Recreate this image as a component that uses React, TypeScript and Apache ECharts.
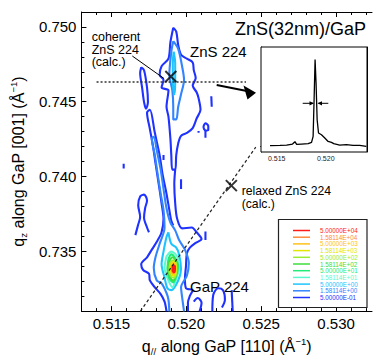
import React, { useEffect, useRef } from 'react';
import * as echarts from 'echarts';

const FONT = '"Liberation Sans", Arial, Helvetica, sans-serif';

// ---- axes ----
const xRange = [0.513, 0.5324];
const yRange = [0.731, 0.751];
const xMajorTicks = [0.515, 0.52, 0.525, 0.53];
const xMinorTicks = [0.514, 0.516, 0.517, 0.518, 0.519, 0.521, 0.522, 0.523, 0.524, 0.526, 0.527, 0.528, 0.529, 0.531, 0.532];
const yMajorTicks = [0.735, 0.74, 0.745, 0.75];
const yMinorTicks = [0.732, 0.733, 0.734, 0.736, 0.737, 0.738, 0.739, 0.741, 0.742, 0.743, 0.744, 0.746, 0.747, 0.748, 0.749];

const insetXRange = [0.5134, 0.5242];
const insetXLabels = [0.515, 0.52];
const insetXTicks = [0.514, 0.515, 0.516, 0.517, 0.518, 0.519, 0.52, 0.521, 0.522, 0.523, 0.524];
const insetYRange = [-0.45, 8];
const insetYTicks = [0, 1, 2, 3, 4, 5, 6, 7];

// ---- contour levels (legend) ----
const levelLabels = ['5.00000E+04', '1.58114E+04', '5.00000E+03', '1.58114E+03', '5.00000E+02', '1.58114E+02', '5.00000E+01', '1.58114E+01', '5.00000E+00', '1.58114E+00', '5.00000E-01'];
const levelColors = ['#ff1a1a', '#ff8a3c', '#ffc21a', '#e2e600', '#9cec30', '#3ede3e', '#22ec78', '#5ef8d0', '#1ec4ff', '#3284ff', '#1f32ff'];

// ---- contour polylines (q//, qz) ----
const znsOuter = [[0.51913, 0.74995], [0.51933, 0.74969], [0.51946, 0.74879], [0.51965, 0.74814], [0.52004, 0.74788], [0.52043, 0.74763], [0.5205, 0.74711], [0.52063, 0.74659], [0.52043, 0.74608], [0.52069, 0.74563], [0.52082, 0.74524], [0.52095, 0.74446], [0.52069, 0.74388], [0.52043, 0.74324], [0.52004, 0.74292], [0.51965, 0.74272], [0.51946, 0.74221], [0.51933, 0.74143], [0.51926, 0.74046], [0.51907, 0.74046], [0.519, 0.74143], [0.51894, 0.74253], [0.51881, 0.74401], [0.51868, 0.74466], [0.51881, 0.74575], [0.51835, 0.74595], [0.51848, 0.74646], [0.51822, 0.74679], [0.51835, 0.74737], [0.51881, 0.74788], [0.51894, 0.74898], [0.51913, 0.74995]];
const znsTail = [[0.51926, 0.74046], [0.5192, 0.7395], [0.51926, 0.73821], [0.51939, 0.73717], [0.51972, 0.73653], [0.52037, 0.73659], [0.52069, 0.73627], [0.52102, 0.73582], [0.52063, 0.73556], [0.52024, 0.73524], [0.52004, 0.73485], [0.51998, 0.73401], [0.51991, 0.73317], [0.51998, 0.73253], [0.52043, 0.7324], [0.52024, 0.73201], [0.52011, 0.73156], [0.52011, 0.73098]];
const streakTop = [[0.51699, 0.7473], [0.51718, 0.74711], [0.51738, 0.74595], [0.51744, 0.74498], [0.51731, 0.74453], [0.51718, 0.74498], [0.51705, 0.74595], [0.51692, 0.74692], [0.51699, 0.7473]];
const streakOuter = [[0.51913, 0.73672], [0.519, 0.73704], [0.51887, 0.73775], [0.51868, 0.73885], [0.51842, 0.74014], [0.51822, 0.74143], [0.5179, 0.74292], [0.51757, 0.74446], [0.51738, 0.74427], [0.51757, 0.74317], [0.51777, 0.74208], [0.51796, 0.74079], [0.51816, 0.7395], [0.51835, 0.73821], [0.51848, 0.73717], [0.51835, 0.73627], [0.51803, 0.73563], [0.5177, 0.73511], [0.51738, 0.7346], [0.51699, 0.73414], [0.51712, 0.73375], [0.51751, 0.7335], [0.51757, 0.73305], [0.5179, 0.73259], [0.51829, 0.73214], [0.51855, 0.73163], [0.51868, 0.73098]];
const islandLeft = [[0.5166, 0.73608], [0.51679, 0.73679], [0.51692, 0.7373], [0.51679, 0.73808], [0.51692, 0.73866], [0.51718, 0.73879], [0.51738, 0.7384], [0.51725, 0.73788], [0.51718, 0.73724], [0.51738, 0.73659], [0.51751, 0.73627]];
const islandRho = [[0.52128, 0.74304], [0.52115, 0.7433], [0.52128, 0.74356], [0.52147, 0.74337], [0.52147, 0.74311], [0.52128, 0.74304], [0.52128, 0.74259]];
const islandDash1 = [[0.52167, 0.74537], [0.5217, 0.74466]];
const islandDot1 = [[0.52082, 0.74304], [0.52082, 0.74292]];
const islandDash2 = [[0.51582, 0.74085], [0.51582, 0.74053]];
const islandDash3 = [[0.51848, 0.74143], [0.51848, 0.74111]];
const islandDash4 = [[0.51965, 0.73982], [0.51965, 0.73917]];
const islandDash5 = [[0.52128, 0.73633], [0.52128, 0.73575]];
const islandBottomA = [[0.52174, 0.73098], [0.5218, 0.73208], [0.52212, 0.73253], [0.52245, 0.7324], [0.52258, 0.73176], [0.52238, 0.73124]];
const islandBottomB = [[0.52303, 0.7324], [0.5231, 0.73098]];
const islandBottomC = [[0.5205, 0.73163], [0.52076, 0.73188], [0.52102, 0.73156], [0.52089, 0.73098]];

const znsInner = [[0.51913, 0.74905], [0.51946, 0.74853], [0.51972, 0.74737], [0.51985, 0.74646], [0.51965, 0.7455], [0.51946, 0.74466], [0.51933, 0.74382], [0.51913, 0.74382], [0.51913, 0.74466], [0.51907, 0.74575], [0.51887, 0.74679], [0.519, 0.74834], [0.51913, 0.74905]];
const streakInner = [[0.51985, 0.73098], [0.51972, 0.73195], [0.51965, 0.73259], [0.52004, 0.73337], [0.52017, 0.73421], [0.51991, 0.73511], [0.51952, 0.73575], [0.51926, 0.7364], [0.51894, 0.73692], [0.51868, 0.73788], [0.51848, 0.73917], [0.51829, 0.74046], [0.51803, 0.74175], [0.51783, 0.74266], [0.5177, 0.74253], [0.5179, 0.74143], [0.51809, 0.74014], [0.51829, 0.73885], [0.51848, 0.73775], [0.51855, 0.73659], [0.51822, 0.7355], [0.51796, 0.73466], [0.51783, 0.73388], [0.51803, 0.73305], [0.51835, 0.73285], [0.51868, 0.73221], [0.51881, 0.73176], [0.51887, 0.73098]];

const znsCore = [[0.51916, 0.74834], [0.51926, 0.74756], [0.51926, 0.74627], [0.5192, 0.7455], [0.5191, 0.74627], [0.5191, 0.74756], [0.51916, 0.74834]];
const gapRing5e0 = [[0.51881, 0.73627], [0.519, 0.7355], [0.51933, 0.73524], [0.51952, 0.73479], [0.51965, 0.73382], [0.51946, 0.73305], [0.519, 0.7324], [0.51874, 0.73253], [0.51855, 0.73324], [0.51835, 0.73414], [0.51848, 0.73498], [0.51868, 0.73595], [0.51881, 0.73627]];
const gapRing16 = [[0.51868, 0.73466], [0.51855, 0.73388], [0.51881, 0.73305], [0.51907, 0.73259], [0.51933, 0.73317], [0.51952, 0.73388], [0.51939, 0.73466], [0.519, 0.73498], [0.51868, 0.73466]];
const gapRing50 = [[0.51881, 0.73447], [0.51874, 0.73382], [0.51887, 0.73317], [0.51913, 0.73292], [0.51933, 0.73337], [0.51946, 0.73401], [0.51926, 0.73453], [0.519, 0.73479], [0.51881, 0.73447]];
const gapRing158 = [[0.51887, 0.73434], [0.51881, 0.73375], [0.51894, 0.73324], [0.51913, 0.73305], [0.51933, 0.7335], [0.51939, 0.73401], [0.51926, 0.7344], [0.51907, 0.7346], [0.51887, 0.73434]];
const gapRing500 = [[0.51894, 0.73427], [0.51887, 0.73375], [0.519, 0.7333], [0.5192, 0.73324], [0.51933, 0.73369], [0.51933, 0.73414], [0.51913, 0.7344], [0.51894, 0.73427]];
const gapRing1581 = [[0.519, 0.73421], [0.51897, 0.73375], [0.51907, 0.73343], [0.5192, 0.73337], [0.51929, 0.73375], [0.51929, 0.73408], [0.51913, 0.73427], [0.519, 0.73421]];
const gapRing5000 = [[0.51903, 0.73414], [0.51903, 0.73369], [0.51913, 0.7335], [0.51926, 0.73369], [0.51926, 0.73401], [0.51916, 0.73421], [0.51903, 0.73414]];
const gapRing15811 = [[0.51907, 0.73408], [0.51907, 0.73369], [0.51916, 0.73356], [0.51925, 0.73375], [0.51923, 0.73401], [0.51907, 0.73408]];
const gapRing50000 = [[0.51911, 0.73401], [0.51911, 0.73369], [0.5192, 0.73362], [0.51923, 0.73388], [0.5192, 0.73401], [0.51911, 0.73401]];

// ---- calculated positions ----
const coherentZnS = [0.51897, 0.74669];
const relaxedZnS = [0.52301, 0.73939];
const coherentQzLine = [[0.51401, 0.74632], [0.52399, 0.74632]];
const relaxedLine = [[0.51694, 0.731], [0.52464, 0.74196]];

// ---- inset profile ----
const insetQx = [0.51432, 0.51533, 0.51601, 0.51661, 0.51686, 0.51703, 0.51753, 0.51821, 0.51855, 0.51871, 0.51881, 0.51891, 0.51901, 0.51912, 0.51926, 0.51956, 0.5199, 0.52024, 0.52058, 0.52081, 0.52142, 0.5221, 0.52278, 0.52345, 0.52413];
const insetIntensity = [0.06, 0.08, 0.11, 0.19, 0.38, 0.16, 0.19, 0.22, 0.32, 0.81, 3.77, 6.99, 5.11, 2.15, 1.08, 0.94, 0.68, 0.4, 0.32, 0.22, 0.11, 0.14, 0.08, 0.08, 0.0];

const contours: { level: number; pts: number[][] }[] = [
  { level: 10, pts: znsOuter },
  { level: 10, pts: znsTail },
  { level: 10, pts: streakTop },
  { level: 10, pts: streakOuter },
  { level: 10, pts: islandLeft },
  { level: 10, pts: islandRho },
  { level: 10, pts: islandDash1 },
  { level: 10, pts: islandDot1 },
  { level: 10, pts: islandDash2 },
  { level: 10, pts: islandDash3 },
  { level: 10, pts: islandDash4 },
  { level: 10, pts: islandDash5 },
  { level: 10, pts: islandBottomA },
  { level: 10, pts: islandBottomB },
  { level: 10, pts: islandBottomC },
  { level: 9, pts: znsInner },
  { level: 9, pts: streakInner },
  { level: 8, pts: znsCore },
  { level: 8, pts: gapRing5e0 },
  { level: 7, pts: gapRing16 },
  { level: 6, pts: gapRing50 },
  { level: 5, pts: gapRing158 },
  { level: 4, pts: gapRing500 },
  { level: 3, pts: gapRing1581 },
  { level: 2, pts: gapRing5000 },
  { level: 1, pts: gapRing15811 },
  { level: 0, pts: gapRing50000 },
];

const fmt3 = (v: number) => v.toFixed(3);

function buildOption() {
  const axisLineStyle = { show: true, lineStyle: { color: '#000', width: 1 } };
  const nameRich = {
    a: { fontSize: 16, lineHeight: 20, color: '#000', fontFamily: FONT },
    s: { fontSize: 9.5, lineHeight: 9, verticalAlign: 'bottom', color: '#000', fontFamily: FONT },
    p: { fontSize: 9.5, lineHeight: 9, verticalAlign: 'top', color: '#000', fontFamily: FONT },
  };
  const mainX = (pos: string, ticks: number[], len: number, labels: boolean, line: boolean, extra: any = {}) => ({
    type: 'value', gridIndex: 0, position: pos, min: xRange[0], max: xRange[1],
    axisLine: line ? axisLineStyle : { show: false },
    axisTick: { show: true, inside: true, length: len, customValues: ticks, lineStyle: { color: '#000', width: 1 } },
    axisLabel: labels ? { show: true, customValues: ticks, formatter: fmt3, fontSize: 15, color: '#000', margin: 5, fontFamily: FONT } : { show: false },
    splitLine: { show: false },
    ...extra,
  });
  const mainY = (ticks: number[], len: number, labels: boolean, line: boolean, extra: any = {}) => ({
    type: 'value', gridIndex: 0, position: 'left', min: yRange[0], max: yRange[1],
    axisLine: line ? axisLineStyle : { show: false },
    axisTick: { show: true, inside: true, length: len, customValues: ticks, lineStyle: { color: '#000', width: 1 } },
    axisLabel: labels ? { show: true, customValues: ticks, formatter: fmt3, fontSize: 15, color: '#000', margin: 5, fontFamily: FONT } : { show: false },
    splitLine: { show: false },
    ...extra,
  });

  const series: any[] = contours.map((c) => ({
    type: 'line', xAxisIndex: 0, yAxisIndex: 0, data: c.pts, showSymbol: false, symbol: 'none',
    smooth: 0.3, silent: true, z: 2,
    lineStyle: { color: levelColors[c.level], width: c.level === 0 ? 2.6 : 2.1 },
  }));
  series.push({
    type: 'line', xAxisIndex: 0, yAxisIndex: 0, data: coherentQzLine, symbol: 'none', silent: true, z: 4,
    lineStyle: { color: '#333', width: 1.3, type: [2, 2] },
  });
  series.push({
    type: 'line', xAxisIndex: 0, yAxisIndex: 0, data: relaxedLine, symbol: 'none', silent: true, z: 4,
    lineStyle: { color: '#222', width: 1.2, type: [3, 2.5] },
  });
  series.push({
    type: 'scatter', xAxisIndex: 0, yAxisIndex: 0, data: [coherentZnS, relaxedZnS], silent: true, z: 5,
    symbol: 'path://M0,0L10,10M10,0L0,10', symbolSize: 11,
    itemStyle: { color: 'transparent', borderColor: '#000', borderWidth: 2 },
  });
  series.push({
    type: 'line', xAxisIndex: 4, yAxisIndex: 2, data: insetQx.map((q, i) => [q, insetIntensity[i]]),
    symbol: 'none', silent: true, z: 6, lineStyle: { color: '#000', width: 1.3 },
  });

  const graphic: any[] = [];
  const txt = (text: string, x: number, y: number, size: number, fill = '#000') => ({
    type: 'text', x, y, z: 20, silent: true,
    style: { text, fill, fontSize: size, fontFamily: FONT, align: 'left', verticalAlign: 'middle' },
  });
  graphic.push(txt('ZnS(32nm)/GaP', 235, 29, 18));
  graphic.push(txt('ZnS 224', 190, 51.7, 15));
  graphic.push(txt('GaP 224', 190, 286, 15));
  graphic.push(txt('coherent', 91.7, 37, 12.5));
  graphic.push(txt('ZnS 224', 91.7, 49.5, 12.5));
  graphic.push(txt('(calc.)', 91.7, 62, 12.5));
  graphic.push(txt('relaxed ZnS 224', 241.7, 191.3, 12.2));
  graphic.push(txt('(calc.)', 241.7, 204.2, 12.2));
  graphic.push({ type: 'line', z: 20, silent: true, shape: { x1: 132.3, y1: 56, x2: 164, y2: 78.5 }, style: { stroke: '#000', lineWidth: 1 } });
  graphic.push({ type: 'line', z: 20, silent: true, shape: { x1: 216.7, y1: 85, x2: 248, y2: 91.3 }, style: { stroke: '#000', lineWidth: 2 } });
  graphic.push({ type: 'polygon', z: 20, silent: true, shape: { points: [[256, 92.7], [243.5, 85.5], [247.5, 99.5]] }, style: { fill: '#000' } });
  // FWHM arrows in inset
  graphic.push({ type: 'line', z: 20, silent: true, shape: { x1: 302.7, y1: 103.3, x2: 313, y2: 103.3 }, style: { stroke: '#000', lineWidth: 1 } });
  graphic.push({ type: 'polygon', z: 20, silent: true, shape: { points: [[314, 103.3], [309.5, 101.2], [309.5, 105.4]] }, style: { fill: '#000' } });
  graphic.push({ type: 'line', z: 20, silent: true, shape: { x1: 318.5, y1: 103.3, x2: 328.3, y2: 103.3 }, style: { stroke: '#000', lineWidth: 1 } });
  graphic.push({ type: 'polygon', z: 20, silent: true, shape: { points: [[317.5, 103.3], [322, 101.2], [322, 105.4]] }, style: { fill: '#000' } });
  // legend
  graphic.push({ type: 'rect', z: 20, silent: true, shape: { x: 278.5, y: 219.5, width: 88.5, height: 88 }, style: { fill: '#fff', stroke: '#222', lineWidth: 1.2 } });
  levelLabels.forEach((lab, i) => {
    const y = 230.5 + i * 6.7;
    graphic.push({ type: 'line', z: 21, silent: true, shape: { x1: 293, y1: y, x2: 310, y2: y }, style: { stroke: levelColors[i], lineWidth: 1.5 } });
    graphic.push(txt(lab, 320, y, 6.3, levelColors[i]));
  });

  return {
    animation: false,
    backgroundColor: '#fff',
    textStyle: { fontFamily: FONT },
    grid: [
      { left: 73, top: 12, width: 299, height: 310, show: false },
      { left: 261, top: 47, width: 106, height: 105, show: true, backgroundColor: '#fff', borderColor: '#000', borderWidth: 1, z: 3 },
    ],
    xAxis: [
      mainX('bottom', xMajorTicks, 5, true, true, {
        name: '{a|q}{s|//}{a| along GaP [110] (Å}{p|−1}{a|)}', nameLocation: 'middle', nameGap: 18,
        nameTextStyle: { rich: nameRich },
      }),
      mainX('bottom', xMinorTicks, 3, false, false),
      mainX('top', xMajorTicks, 5, false, true),
      mainX('top', xMinorTicks, 3, false, false),
      {
        type: 'value', gridIndex: 1, position: 'bottom', min: insetXRange[0], max: insetXRange[1],
        axisLine: axisLineStyle,
        axisTick: { show: true, inside: true, length: 3, customValues: insetXTicks, lineStyle: { color: '#000' } },
        axisLabel: { show: true, customValues: insetXLabels, formatter: fmt3, fontSize: 7, color: '#222', margin: 3, fontFamily: FONT },
        splitLine: { show: false },
      },
      {
        type: 'value', gridIndex: 1, position: 'top', min: insetXRange[0], max: insetXRange[1],
        axisLine: axisLineStyle,
        axisTick: { show: true, inside: true, length: 3, customValues: insetXTicks, lineStyle: { color: '#000' } },
        axisLabel: { show: false }, splitLine: { show: false },
      },
    ],
    yAxis: [
      mainY(yMajorTicks, 5, true, true, {
        name: '{a|q}{s|z}{a| along GaP [001] (Å}{p|−1}{a|)}', nameLocation: 'middle', nameGap: 40, nameRotate: 90,
        nameTextStyle: { rich: nameRich },
      }),
      mainY(yMinorTicks, 3, false, false),
      {
        type: 'value', gridIndex: 1, position: 'left', min: insetYRange[0], max: insetYRange[1],
        axisLine: axisLineStyle,
        axisTick: { show: true, inside: true, length: 3, customValues: insetYTicks, lineStyle: { color: '#000' } },
        axisLabel: { show: false }, splitLine: { show: false },
      },
      {
        type: 'value', gridIndex: 1, position: 'right', min: insetYRange[0], max: insetYRange[1],
        axisLine: axisLineStyle,
        axisTick: { show: true, inside: true, length: 3, customValues: insetYTicks, lineStyle: { color: '#000' } },
        axisLabel: { show: false }, splitLine: { show: false },
      },
    ],
    series,
    graphic,
  };
}

export default function App() {
  const ref = useRef<HTMLDivElement>(null);
  useEffect(() => {
    if (!ref.current) return;
    const chart = echarts.init(ref.current, undefined, { renderer: 'svg' });
    chart.setOption(buildOption() as any);
    return () => chart.dispose();
  }, []);
  return <div ref={ref} style={{ position: 'fixed', left: 0, top: 0, width: 373, height: 361, background: '#fff' }} />;
}
